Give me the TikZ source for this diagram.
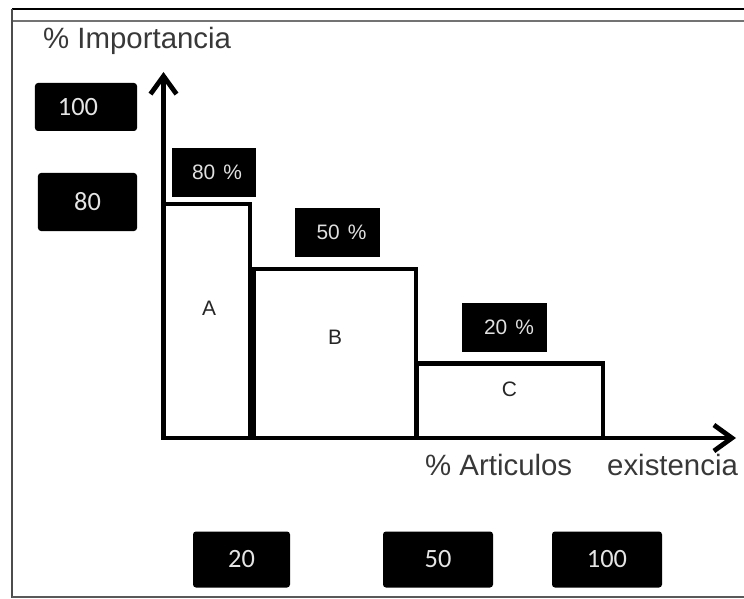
\documentclass[tikz,border=0pt]{standalone}
\usepackage{fontspec}
\setmainfont{Liberation Sans}
\newfontfamily\calib{Carlito}
\usetikzlibrary{arrows.meta}
\begin{document}
\begin{tikzpicture}[x=1bp,y=-1bp,
  axisline/.style={line width=4.8bp,-{Straight Barb[length=18bp,width=26bp]}},
  bar/.style={draw,line width=4.8bp,fill=white,inner sep=0pt},
  tagbox/.style={fill=black,text=white!88!black,inner sep=0pt,minimum height=49bp,font=\fontsize{21}{25}\selectfont},
  numbox/.style={fill=black,rounded corners=3bp,text=white!90!black,inner sep=0pt,font=\calib\fontsize{26.5}{30}\selectfont},
  title/.style={text=black!78,font=\fontsize{29.5}{34}\selectfont,inner sep=0pt},
  barlabel/.style={text=black!85,font=\fontsize{21}{24}\selectfont,inner sep=0pt}
]
\useasboundingbox (0,0) rectangle (744,599);
% frame
\draw[line width=2bp] (12,9.5) -- (744,9.5);
\draw[line width=2bp, black!55] (12,21) -- (744,21);
\draw[line width=2bp, black!70] (12,9) -- (12,598);
\draw[line width=2.5bp, black!65] (12,597) -- (744,597);
% bars
\node[bar,minimum width=86.5bp,minimum height=234bp] (rA) at (206.75,321) {};
\node[bar,minimum width=162bp,minimum height=169bp] (rB) at (335,353.5) {};
\node[bar,minimum width=186.5bp,minimum height=74.5bp] (rC) at (509.75,400.75) {};
\node[barlabel] (lA) at (209,308) {A};
\node[barlabel] (lB) at (335,337) {B};
\node[barlabel] (lC) at (509.5,389.5) {C};
% axes
\coordinate (O) at (163.5,438);
\coordinate (ytip) at (163.5,72);
\coordinate (xtip) at (736,438);
\draw[axisline] (O) -- (ytip);
\draw[axisline] (O) -- (xtip);
% titles
\node[title,anchor=base west] (ty) at (43,49) {\% Importancia};
\node[title,anchor=base west] (tx) at (425,475) {\% Articulos};
\node[title,anchor=base west] (te) at (607,475) {existencia};
% percent tags
\node[tagbox,minimum width=84bp] (t80) at (214,172.5) {\hspace*{6bp}80\hspace{8bp}\%};
\node[tagbox,minimum width=85bp] (t50) at (337.5,232.5) {\hspace*{8bp}50\hspace{8bp}\%};
\node[tagbox,minimum width=85bp] (t20) at (504.5,327.5) {\hspace*{9bp}20\hspace{8bp}\%};
% number boxes
\node[numbox,minimum width=102bp,minimum height=48bp] (n100) at (86,107) {\hspace*{-16bp}100};
\node[numbox,minimum width=99bp,minimum height=58bp] (n80) at (87.5,202) {80};
\node[numbox,minimum width=97bp,minimum height=56bp] (b20) at (241.5,559.5) {20};
\node[numbox,minimum width=110bp,minimum height=56bp] (b50) at (438,559.5) {50};
\node[numbox,minimum width=110bp,minimum height=56bp] (b100) at (607,559.5) {100};
\end{tikzpicture}
\end{document}
